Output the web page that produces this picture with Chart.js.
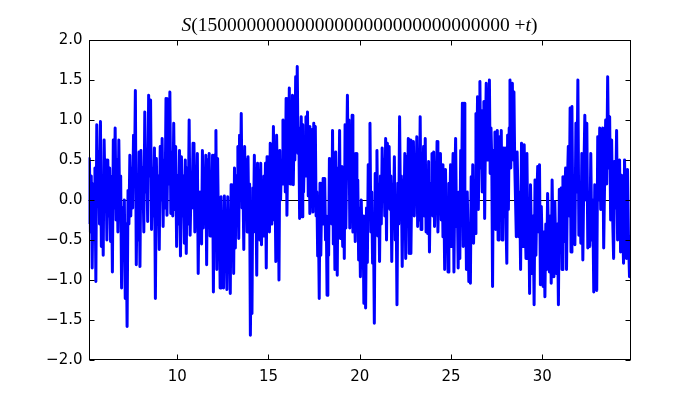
<!DOCTYPE html>
<html>
<head>
<meta charset="utf-8">
<script src="https://cdn.jsdelivr.net/npm/chart.js@4.4.1/dist/chart.umd.min.js"></script>
<style>
html,body{margin:0;padding:0;background:#fff;}
canvas{display:block;}
</style>
</head>
<body>
<canvas id="c" width="700" height="400"></canvas>
<script>
// ---- data ----
const titleNumber = "15000000000000000000000000000000";
const xTicks = [10, 15, 20, 25, 30];
const yTicks = [-2.0, -1.5, -1.0, -0.5, 0.0, 0.5, 1.0, 1.5, 2.0];
const xRange = [5.14, 34.84];
// t boundaries of consecutive stretches of the signal
const segBounds = [5.14, 7.96, 10.92, 13.88, 16.84, 19.80, 22.76, 25.72, 28.67, 31.63, 34.84];
// S values in each stretch, in order along t
const seg1 = [-0.3, 0.52, -0.4, 0.3, -0.85, 0.2, -0.5, 0.4, -1.02, 0.94, -0.08, 0.6, -0.3, 0.98, -0.58, 0.3, -0.69, 0.75, 0.1, 0.5, -0.5, 0.5, -0.2, 0.4, -0.52, 0.29, -0.9, 0.75, -0.1, 0.9, -0.25, 0.5, -0.4, 0.75, -0.2, 0.3, -1.1, -0.1, -0.6, 0.0, -1.23, -0.3, -1.58, 0.12, -0.3, 0.56, -0.2, 0.4, -0.1, 0.81, 0.2, 1.37, -0.81, 0.3, -0.5, 0.6];
const seg2 = [-0.83, 0.62, -0.1, 0.4, -0.4, 1.1, 0.1, 0.6, -0.27, 1.31, 0.3, 1.25, -0.37, 0.4, -0.2, 0.65, -1.23, 0.52, -0.3, 0.3, -0.62, 0.67, 0.0, 0.77, -0.33, 0.5, -0.1, 1.27, -0.19, 0.83, 0.2, 1.35, -0.17, 0.6, -0.2, 0.96, -0.12, 0.67, -0.58, 0.3, -0.3, 0.62, -0.7, 0.54, -0.2, 0.3, -0.54, 0.5, -0.67, 0.4, -0.3, 1.0, -0.44, 0.2, -0.1, 0.71];
const seg3 = [0.69, -0.4, 0.3, -0.2, 0.58, -0.92, 0.1, -0.3, 0.05, -0.55, 0.62, -0.35, 0.3, -0.1, 0.56, -0.81, 0.5, -0.2, 0.58, -0.45, 0.2, -0.3, 0.56, -1.15, 0.56, -0.1, 0.87, -0.87, 0.52, -0.33, -0.1, -1.1, 0.04, -0.6, -0.2, -1.1, 0.05, -0.5, -0.3, -1.12, 0.04, -0.7, -0.2, -1.17, 0.19, -0.4, 0.1, -0.92, 0.4, -0.6, 0.3, -0.2, 0.67, -0.48, 0.81, 0.1, 1.08, -0.1, 0.3, -0.62, 0.67, -0.2, 0.5, -0.4];
const seg4 = [0.54, -0.3, 0.2, -1.69, -0.6, -1.42, 0.15, -0.3, 0.56, -0.4, 0.1, -0.94, 0.46, -0.2, 0.2, -0.5, 0.46, -0.56, 0.15, -0.45, 0.3, -0.2, 0.46, -0.85, 0.54, -0.3, 0.1, -0.4, 0.71, -0.3, 0.5, 0.0, 0.92, -0.25, 0.3, -0.77, 0.81, 0.2, 0.5, -1.0, 0.62, 0.0, 0.5, 0.2, 1.0, 0.3, 0.8, 0.1, 1.27, -0.19, 0.6, 0.3, 1.4, 0.2, 0.8, 0.4, 1.31, 0.19, 0.9, 0.5, 1.54, 0.6, 1.67, 0.58, 0.9, -0.23, 0.5, 1.04];
const seg5 = [-0.21, 0.94, 0.1, 0.6, 0.3, 1.04, 0.4, 1.1, 0.05, 0.92, -0.17, 0.5, 0.2, 0.88, -0.15, 0.96, 0.4, 0.92, -0.2, 0.1, -0.7, -0.3, -1.23, 0.21, -0.69, 0.0, -0.3, 0.27, -0.3, 0.27, -0.5, -0.2, -1.19, -0.3, -0.69, 0.52, 0.0, 0.25, -0.3, 0.87, -0.55, 0.2, -0.87, 0.6, -0.2, -0.94, 0.4, -0.1, 0.87, -0.48, 0.42, -0.2, -0.58, 0.3, -0.73, 0.94, -0.35, 0.5, 1.31, 0.3, 1.0, -0.35, 0.58, 0.1, 1.06, -0.4, 0.58, -0.1, -0.52];
const seg6 = [0.58, -0.35, 0.25, -0.75, -0.1, -0.96, 0.0, -0.6, -0.2, -1.29, -0.5, -1.35, -0.1, -0.78, 0.44, -0.2, 0.96, -0.4, 0.1, -0.79, -0.3, -1.54, 0.33, -0.2, 0.62, -0.45, 0.2, -0.77, 0.3, -0.3, 0.65, 0.1, 0.5, -0.2, 0.77, -0.5, 0.71, -0.1, 0.67, -0.12, 0.3, -0.77, 0.2, -0.3, 0.54, -0.5, 0.0, -1.31, 0.21, -0.3, 1.04, -0.12, 0.3, -0.83, 0.25, -0.2, 0.58, -0.73, 0.54, -0.1, 0.77, -0.67];
const seg7 = [0.75, -0.67, 0.2, -0.1, 0.73, -0.2, 0.4, 0.0, 0.79, -0.33, 0.3, -0.25, 1.04, -0.37, 0.3, 0.0, 0.67, -0.2, 0.77, -0.4, 0.1, -0.42, 0.48, -0.65, 0.2, -0.1, 0.58, -0.2, 0.6, -0.33, 0.3, -0.1, 0.73, -0.4, 0.2, 0.0, 0.58, -0.25, 0.44, -0.46, 0.1, -0.87, 0.38, -0.4, 0.0, -0.9, 0.21, -0.3, 0.44, -0.58, 0.1, 0.58, -0.9, 0.2, 0.77, -0.33, 0.0, -0.85, 0.1, -0.73, 0.62, 0.0, 1.21, -0.58];
const seg8 = [1.21, -0.21, 0.1, -0.87, 0.1, -0.4, -1.02, -0.3, -1.04, 0.29, -0.3, 0.44, -0.54, 0.1, -0.42, 1.08, 0.3, 1.29, -0.12, 0.6, 1.48, 0.4, 1.12, 0.1, 0.7, 1.23, -0.23, 0.8, 1.46, 0.5, 1.37, 0.6, 1.5, 0.33, 0.9, 0.5, -1.08, 0.62, 0.0, 0.85, -0.37, 0.5, 0.87, -0.5, 0.4, 0.79, 0.0, 0.87, -0.5, 0.3, 0.65, -0.21, 0.65, -0.3, -0.79, 0.81, -0.12, 0.9, 1.5, 0.4, 1.0, 1.46, 0.5, 1.35, 0.44, 0.0, -0.46, 0.6];
const seg9 = [0.6, -0.46, 0.1, -0.87, 0.71, -0.1, -0.58, 0.69, -0.2, -0.73, 0.58, -0.46, 0.0, -1.17, 0.19, -0.5, -0.92, -0.2, -1.31, 0.25, -0.69, 0.0, 0.42, -0.4, 0.44, -1.06, -0.08, -0.6, -1.08, -0.4, -1.21, -0.3, -0.87, 0.08, -0.5, -0.9, -0.2, -1.04, 0.25, -0.5, -0.96, -0.02, -0.6, -0.92, -0.3, -1.31, 0.13, -0.4, 0.15, -0.87, 0.29, -0.52, 0.0, 0.4, -0.87, 0.2, 0.67, -0.2, 1.15, -0.65];
const seg10 = [1.17, -0.42, 0.3, -0.56, 0.96, 0.1, 1.5, -0.44, 0.2, -0.54, 0.58, -0.75, 0.3, 1.06, 0.0, 0.96, -0.6, 0.1, -0.58, 0.58, -0.5, 0.0, -1.15, 0.19, -0.5, -1.13, 0.79, 0.0, 0.9, -0.12, 0.5, 0.9, -0.6, 0.3, 1.0, 0.2, 1.54, 0.4, 1.04, -0.25, 0.75, -0.2, -0.73, 0.48, -0.1, 0.87, -0.5, 0.2, 0.5, -0.65, 0.31, -0.3, -0.79, 0.5, -0.2, -0.73, 0.38, -0.5, -0.96, -0.44];

const segments = [seg1, seg2, seg3, seg4, seg5, seg6, seg7, seg8, seg9, seg10];
const points = [];
segments.forEach((seg, k) => {
  const a = segBounds[k], b = segBounds[k + 1];
  const last = k === segments.length - 1;
  const n = last ? seg.length - 1 : seg.length;
  seg.forEach((v, i) => points.push({ x: a + (b - a) * i / n, y: v }));
});

const TICK_FONT = { family: 'DejaVu Sans', size: 15 };

const framePlugin = {
  id: 'frame',
  beforeDatasetsDraw(chart) {
    const { ctx, chartArea: a, scales } = chart;
    const y0 = scales.y.getPixelForValue(0);
    ctx.save();
    ctx.strokeStyle = '#000';
    ctx.lineWidth = 1;
    ctx.beginPath();
    ctx.moveTo(a.left, Math.round(y0) + 0.5);
    ctx.lineTo(a.right, Math.round(y0) + 0.5);
    ctx.stroke();
    ctx.restore();
  },
  afterDraw(chart) {
    const { ctx, chartArea: a, scales } = chart;
    ctx.save();
    ctx.strokeStyle = '#000';
    ctx.lineWidth = 1;
    const L = Math.round(a.left) + 0.5, R = Math.round(a.right) - 0.5;
    const T = Math.round(a.top) + 0.5, B = Math.round(a.bottom) - 0.5;
    ctx.strokeRect(L, T, R - L, B - T);
    const len = 5;
    ctx.beginPath();
    xTicks.forEach(v => {
      const px = Math.round(scales.x.getPixelForValue(v)) + 0.5;
      ctx.moveTo(px, B); ctx.lineTo(px, B - len);
      ctx.moveTo(px, T); ctx.lineTo(px, T + len);
    });
    yTicks.forEach(v => {
      const py = Math.round(scales.y.getPixelForValue(v)) + 0.5;
      ctx.moveTo(L, py); ctx.lineTo(L + len, py);
      ctx.moveTo(R, py); ctx.lineTo(R - len, py);
    });
    ctx.stroke();

    // title: S(1500...0 +t) in math style
    const size = 19.5;
    const up = size + 'px "Liberation Serif", "DejaVu Serif", serif';
    const it = 'italic ' + up;
    const parts = [
      [it, 'S'], [up, '('], [up, titleNumber], [up, ' +'], [it, 't'], [up, ')']
    ];
    let total = 0;
    parts.forEach(p => { ctx.font = p[0]; total += ctx.measureText(p[1]).width; });
    let x = (a.left + a.right) / 2 - total / 2;
    ctx.fillStyle = '#000';
    ctx.textBaseline = 'alphabetic';
    ctx.textAlign = 'left';
    parts.forEach(p => { ctx.font = p[0]; ctx.fillText(p[1], x, 31); x += ctx.measureText(p[1]).width; });
    ctx.restore();
  }
};

new Chart(document.getElementById('c'), {
  type: 'line',
  data: {
    datasets: [{
      data: points,
      borderColor: '#0000ff',
      borderWidth: 3,
      pointRadius: 0,
      tension: 0,
      fill: false,
      borderJoinStyle: 'round',
      borderCapStyle: 'butt'
    }]
  },
  options: {
    responsive: false,
    animation: false,
    parsing: false,
    layout: { padding: { top: 40, right: 69.5, left: 0, bottom: 0 } },
    plugins: { legend: { display: false }, tooltip: { enabled: false }, title: { display: false } },
    scales: {
      x: {
        type: 'linear',
        min: xRange[0], max: xRange[1],
        grid: { display: false, drawTicks: false },
        border: { display: false },
        afterBuildTicks(s) { s.ticks = xTicks.map(v => ({ value: v })); },
        afterFit(s) { s.height = 40; },
        ticks: { color: '#000', font: TICK_FONT, padding: 8, maxRotation: 0, callback: v => String(v) }
      },
      y: {
        type: 'linear',
        min: -2, max: 2,
        grid: { display: false, drawTicks: false },
        border: { display: false },
        afterBuildTicks(s) { s.ticks = yTicks.map(v => ({ value: v })); },
        afterFit(s) { s.width = 88.5; },
        ticks: { color: '#000', font: TICK_FONT, padding: 6, callback: v => v.toFixed(1).replace('-', '\u2212') }
      }
    }
  },
  plugins: [framePlugin]
});
</script>
</body>
</html>
